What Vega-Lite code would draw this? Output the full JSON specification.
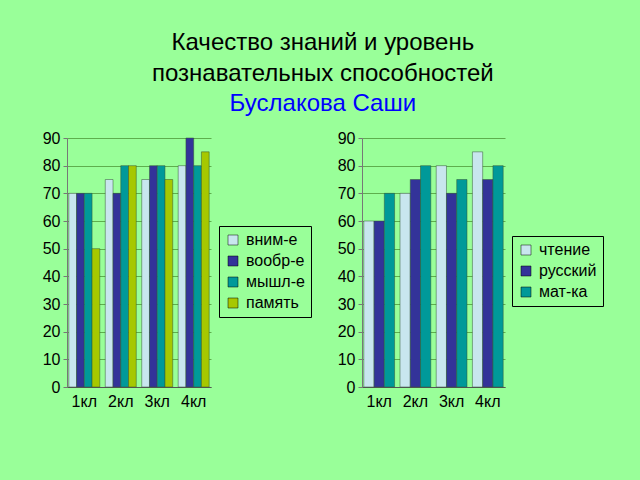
{
  "$schema": "https://vega.github.io/schema/vega-lite/v6.json",
  "background": "#99FF99",
  "padding": {"left": 42, "top": 31, "right": 39, "bottom": 72},
  "title": {
    "text": ["Качество знаний и уровень", "познавательных способностей"],
    "subtitle": "Буслакова Саши",
    "font": "Liberation Sans",
    "fontSize": 24,
    "fontWeight": "normal",
    "color": "#000000",
    "lineHeight": 31,
    "subtitleFont": "Liberation Sans",
    "subtitleFontSize": 24,
    "subtitleColor": "#0000FF",
    "subtitlePadding": 6,
    "anchor": "middle",
    "offset": 14
  },
  "config": {
    "view": {"stroke": null},
    "font": "Liberation Sans",
    "axis": {
      "labelFont": "Liberation Sans",
      "labelFontSize": 16,
      "labelColor": "#000000",
      "title": null
    },
    "legend": {
      "labelFont": "Liberation Sans",
      "labelFontSize": 16,
      "labelColor": "#000000",
      "symbolType": "square",
      "symbolSize": 100,
      "symbolStrokeColor": "#000000",
      "symbolStrokeWidth": 0.5,
      "strokeColor": "#000000",
      "padding": 6,
      "rowPadding": 5,
      "labelOffset": 5,
      "title": null
    }
  },
  "resolve": {"scale": {"color": "independent", "xOffset": "independent"}},
  "spacing": 25,
  "hconcat": [
    {
      "width": 144,
      "height": 249,
      "data": {
        "values": [
          {"cls": "1кл", "s": "вним-е", "v": 70}, {"cls": "1кл", "s": "вообр-е", "v": 70}, {"cls": "1кл", "s": "мышл-е", "v": 70}, {"cls": "1кл", "s": "память", "v": 50},
          {"cls": "2кл", "s": "вним-е", "v": 75}, {"cls": "2кл", "s": "вообр-е", "v": 70}, {"cls": "2кл", "s": "мышл-е", "v": 80}, {"cls": "2кл", "s": "память", "v": 80},
          {"cls": "3кл", "s": "вним-е", "v": 75}, {"cls": "3кл", "s": "вообр-е", "v": 80}, {"cls": "3кл", "s": "мышл-е", "v": 80}, {"cls": "3кл", "s": "память", "v": 75},
          {"cls": "4кл", "s": "вним-е", "v": 80}, {"cls": "4кл", "s": "вообр-е", "v": 90}, {"cls": "4кл", "s": "мышл-е", "v": 80}, {"cls": "4кл", "s": "память", "v": 85}
        ]
      },
      "mark": {"type": "bar", "stroke": "#335533", "strokeWidth": 0.5},
      "encoding": {
        "x": {"field": "cls", "type": "nominal", "sort": null,
              "scale": {"paddingInner": 0.15, "paddingOuter": 0.05},
              "axis": {"labelAngle": 0, "ticks": false, "domainColor": "#555555", "labelPadding": 6}},
        "xOffset": {"field": "s", "type": "nominal", "sort": null, "scale": {"paddingInner": 0, "paddingOuter": 0}},
        "y": {"field": "v", "type": "quantitative",
              "scale": {"domain": [0, 90]},
              "axis": {"values": [0,10,20,30,40,50,60,70,80,90], "gridColor": "#4f9a3a", "gridOpacity": 0.8, "domainColor": "#777777", "tickColor": "#777777", "tickSize": 4, "labelPadding": 3}},
        "color": {"field": "s", "type": "nominal", "sort": null,
                  "scale": {"domain": ["вним-е", "вообр-е", "мышл-е", "память"], "range": ["#C8E6EE", "#333399", "#009999", "#A6C800"]},
                  "legend": {"orient": "none", "legendX": 152, "legendY": 88}}
      }
    },
    {
      "width": 143,
      "height": 249,
      "data": {
        "values": [
          {"cls": "1кл", "s": "чтение", "v": 60}, {"cls": "1кл", "s": "русский", "v": 60}, {"cls": "1кл", "s": "мат-ка", "v": 70},
          {"cls": "2кл", "s": "чтение", "v": 70}, {"cls": "2кл", "s": "русский", "v": 75}, {"cls": "2кл", "s": "мат-ка", "v": 80},
          {"cls": "3кл", "s": "чтение", "v": 80}, {"cls": "3кл", "s": "русский", "v": 70}, {"cls": "3кл", "s": "мат-ка", "v": 75},
          {"cls": "4кл", "s": "чтение", "v": 85}, {"cls": "4кл", "s": "русский", "v": 75}, {"cls": "4кл", "s": "мат-ка", "v": 80}
        ]
      },
      "mark": {"type": "bar", "stroke": "#335533", "strokeWidth": 0.5},
      "encoding": {
        "x": {"field": "cls", "type": "nominal", "sort": null,
              "scale": {"paddingInner": 0.15, "paddingOuter": 0.05},
              "axis": {"labelAngle": 0, "ticks": false, "domainColor": "#555555", "labelPadding": 6}},
        "xOffset": {"field": "s", "type": "nominal", "sort": null, "scale": {"paddingInner": 0, "paddingOuter": 0}},
        "y": {"field": "v", "type": "quantitative",
              "scale": {"domain": [0, 90]},
              "axis": {"values": [0,10,20,30,40,50,60,70,80,90], "gridColor": "#4f9a3a", "gridOpacity": 0.8, "domainColor": "#777777", "tickColor": "#777777", "tickSize": 4, "labelPadding": 3}},
        "color": {"field": "s", "type": "nominal", "sort": null,
                  "scale": {"domain": ["чтение", "русский", "мат-ка"], "range": ["#C8E6EE", "#333399", "#009999"]},
                  "legend": {"orient": "none", "legendX": 150, "legendY": 98}}
      }
    }
  ]
}
